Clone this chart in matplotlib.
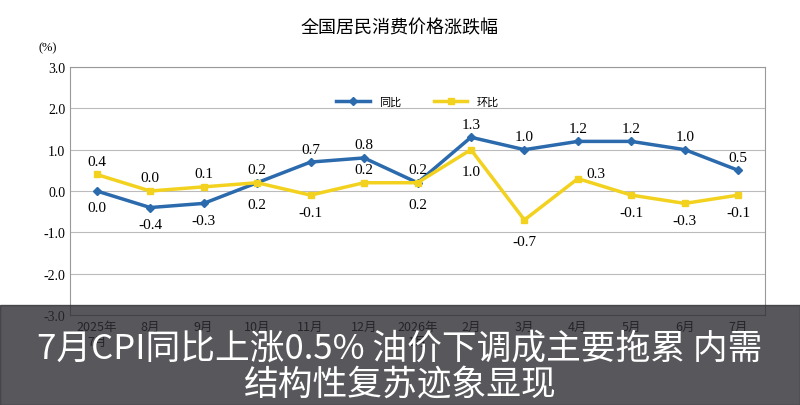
import matplotlib.pyplot as plt
from matplotlib.patches import Rectangle
import numpy as np

plt.rcParams['font.family'] = ['Noto Sans CJK SC', 'DejaVu Sans']

months = ["2025年\n7月", "8月", "9月", "10月", "11月", "12月", "2026年\n1月",
          "2月", "3月", "4月", "5月", "6月", "7月"]
yoy = [0.0, -0.4, -0.3, 0.2, 0.7, 0.8, 0.2, 1.3, 1.0, 1.2, 1.2, 1.0, 0.5]
mom = [0.4, 0.0, 0.1, 0.2, -0.1, 0.2, 0.2, 1.0, -0.7, 0.3, -0.1, -0.3, -0.1]
# label offsets in pixels (dx, dy)
yoy_off = [(0, -17), (0, -17), (0, -17), (0, -22), (0, 13), (0, 13), (0, 13),
           (0, 13), (0, 13), (0, 13), (0, 13), (0, 13), (0, 13)]
mom_off = [(0, 13), (0, 13), (0, 13), (0, 13), (0, -17), (0, 13), (0, -22),
           (0, -22), (0, -22), (18, 5), (0, -17), (0, -17), (0, -17)]

blue = "#2a6aad"
yellow = "#f2d21f"
serif = "Liberation Serif"

fig = plt.figure(figsize=(8, 4.06), dpi=100)
ax = fig.add_axes([70 / 800, 1 - 316 / 406, 695 / 800, 248 / 406])
x = np.arange(len(months))
ax.plot(x, yoy, color=blue, lw=2.5, marker="D", ms=4, label="同比")
ax.plot(x, mom, color=yellow, lw=2.5, marker="s", ms=4, label="环比")
for xi, v, (dx, dy) in zip(x, yoy, yoy_off):
    ax.annotate(f"{v:.1f}", (xi, v), xytext=(dx * 0.72, dy * 0.72), textcoords="offset points",
                ha="center", va="center", fontsize=11, family=serif)
for xi, v, (dx, dy) in zip(x, mom, mom_off):
    ax.annotate(f"{v:.1f}", (xi, v), xytext=(dx * 0.72, dy * 0.72), textcoords="offset points",
                ha="center", va="center", fontsize=11, family=serif)

ax.set_xlim(-0.5, len(months) - 0.5)
ax.set_ylim(-3, 3)
ax.set_yticks(np.arange(-3, 3.1, 1))
ax.set_yticklabels([f"{t:.1f}" for t in np.arange(-3, 3.1, 1)], family=serif, fontsize=10)
ax.set_xticks(x)
ax.set_xticklabels(months, fontsize=9)
ax.tick_params(length=0)
ax.grid(axis="y", color="#bbbbbb", lw=0.8)
ax.set_axisbelow(True)
for s in ax.spines.values():
    s.set_color("#999999")
ax.legend(loc="upper center", bbox_to_anchor=(0.5, 0.92), ncol=2, frameon=False,
          fontsize=8, handlelength=3, columnspacing=3)

fig.text(0.5, 1 - 28 / 406, "全国居民消费价格涨跌幅", ha="center", va="center", fontsize=13)
fig.text(48 / 800, 1 - 48 / 406, "(%)", ha="center", va="center", fontsize=9, family=serif)

# caption overlay
fig.patches.append(Rectangle((0, 0), 1, 100 / 406, transform=fig.transFigure,
                             color="#2e2e33", alpha=0.8, zorder=5))
fig.text(0.5, 1 - 349 / 406, "7月CPI同比上涨0.5% 油价下调成主要拖累 内需", ha="center", va="center",
         fontsize=25, color="white", zorder=6)
fig.text(0.5, 1 - 385 / 406, "结构性复苏迹象显现", ha="center", va="center",
         fontsize=25, color="white", zorder=6)

fig.savefig("out.png", dpi=100)
